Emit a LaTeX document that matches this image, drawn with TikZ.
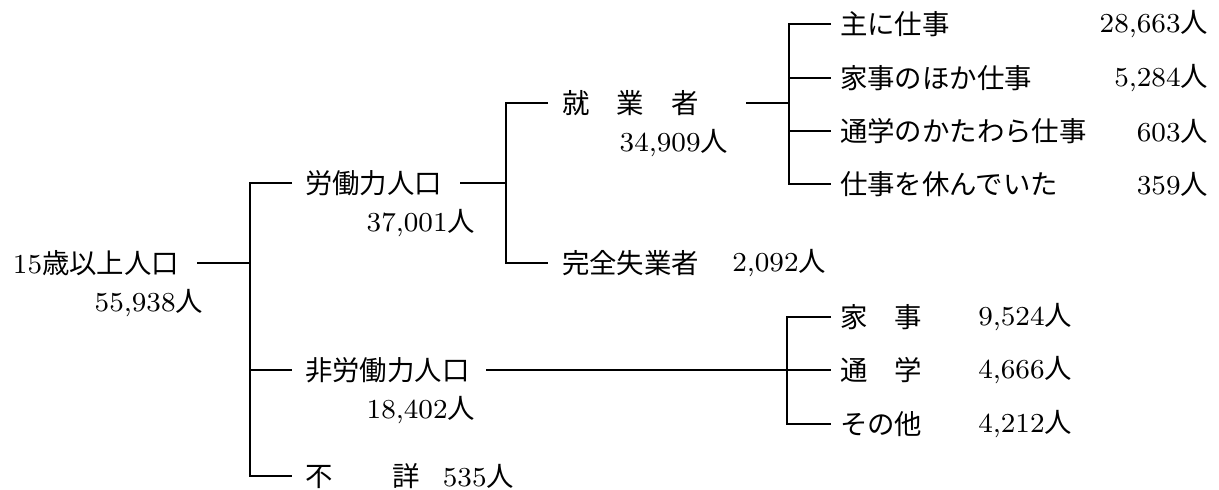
\documentclass[tikz,border=0pt]{standalone}
\usepackage{fontspec}
\newfontfamily\jp{Noto Sans CJK JP}
\usetikzlibrary{positioning}

\begin{document}
\begin{tikzpicture}[x=0.1mm, y=-0.1mm,
    lbl/.style={inner sep=0pt, outer sep=0pt, font=\fontsize{7.8}{10}\selectfont},
    conn/.style={line width=0.35pt}]
    \useasboundingbox (0, 0) rectangle (1219, 489);

    \node [lbl, anchor=west] (root) at (13, 263) {15\jp 歳以上人口};
    \node [lbl, anchor=east] (rootn) at (203, 303) {55,938\jp 人};

    \node [lbl, anchor=west] (lab) at (305, 183) {\jp 労働力人口};
    \node [lbl, anchor=east] (labn) at (475, 223) {37,001\jp 人};
    \node [lbl, anchor=west] (nlab) at (305, 370) {\jp 非労働力人口};
    \node [lbl, anchor=east] (nlabn) at (475, 410) {18,402\jp 人};
    \node [lbl, anchor=west] (unk) at (305, 476) {\jp 不\hspace{2.2em}詳};
    \node [lbl, anchor=east] (unkn) at (514, 476) {535\jp 人};

    \node [lbl, anchor=west] (emp) at (562, 103) {\jp 就\hspace{1em}業\hspace{1em}者};
    \node [lbl, anchor=east] (empn) at (728, 143) {34,909\jp 人};
    \node [lbl, anchor=west] (unemp) at (562, 263) {\jp 完全失業者};
    \node [lbl, anchor=east] (unempn) at (826, 263) {2,092\jp 人};

    \node [lbl, anchor=west] (w1) at (840, 24) {\jp 主に仕事};
    \node [lbl, anchor=east] (w1n) at (1208, 24) {28,663\jp 人};
    \node [lbl, anchor=west] (w2) at (840, 78) {\jp 家事のほか仕事};
    \node [lbl, anchor=east] (w2n) at (1208, 78) {5,284\jp 人};
    \node [lbl, anchor=west] (w3) at (840, 131) {\jp 通学のかたわら仕事};
    \node [lbl, anchor=east] (w3n) at (1208, 131) {603\jp 人};
    \node [lbl, anchor=west] (w4) at (840, 184) {\jp 仕事を休んでいた};
    \node [lbl, anchor=east] (w4n) at (1208, 184) {359\jp 人};

    \node [lbl, anchor=west] (h1) at (840, 317) {\jp 家\hspace{1em}事};
    \node [lbl, anchor=east] (h1n) at (1072, 317) {9,524\jp 人};
    \node [lbl, anchor=west] (h2) at (840, 370) {\jp 通\hspace{1em}学};
    \node [lbl, anchor=east] (h2n) at (1072, 370) {4,666\jp 人};
    \node [lbl, anchor=west] (h3) at (840, 424) {\jp その他};
    \node [lbl, anchor=east] (h3n) at (1072, 424) {4,212\jp 人};

    \coordinate (s0) at (250, 263);
    \coordinate (s1) at (506, 183);
    \coordinate (s2) at (789, 103);
    \coordinate (s3) at (787, 370);

    \draw [conn] ([xshift=1.8mm]root.east) -- (s0);
    \draw [conn] ([xshift=-1.3mm]lab.west) -| (s0) |- ([xshift=-1.3mm]unk.west);
    \draw [conn] (s0) |- ([xshift=-1.3mm]nlab.west);

    \draw [conn] ([xshift=1.8mm]lab.east) -- (s1);
    \draw [conn] ([xshift=-1.4mm]emp.west) -| (s1) |- ([xshift=-1.4mm]unemp.west);

    \draw [conn] ([xshift=4.7mm]emp.east) -- (s2);
    \draw [conn] ([xshift=-0.9mm]w1.west) -| (s2) |- ([xshift=-0.9mm]w4.west);
    \draw [conn] (s2) |- ([xshift=-0.9mm]w2.west);
    \draw [conn] (s2) |- ([xshift=-0.9mm]w3.west);

    \draw [conn] ([xshift=1.7mm]nlab.east) -- ([xshift=-0.9mm]h2.west);
    \draw [conn] ([xshift=-0.9mm]h1.west) -| (s3) |- ([xshift=-0.9mm]h3.west);
  \end{tikzpicture}
\end{document}
